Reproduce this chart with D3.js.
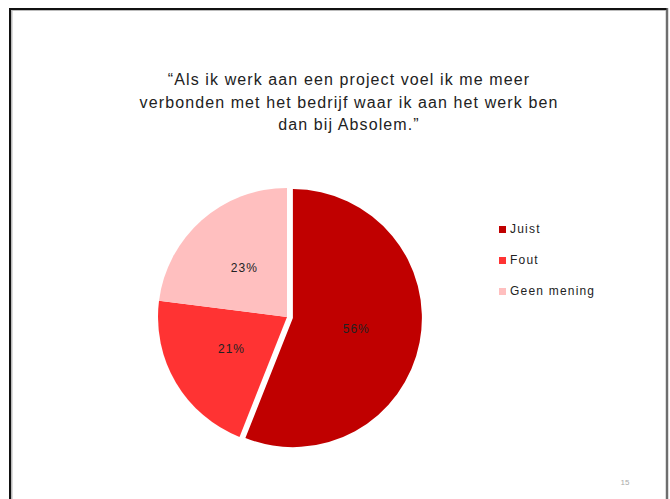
<!DOCTYPE html>
<html>
<head>
<meta charset="utf-8">
<script src="https://d3js.org/d3.v7.min.js"></script>
<style>
  html, body { margin: 0; padding: 0; background: #fff; }
  svg { display: block; }
</style>
</head>
<body>
<svg id="chart" width="670" height="499"></svg>
<script>
// ── Data ──
const categories = ['Juist', 'Fout', 'Geen mening'];
const values = [56, 21, 23];
const colors = ['#C00000', '#FF3333', '#FFBFBF'];
const titleLines = [
  '\u201CAls ik werk aan een project voel ik me meer',
  'verbonden met het bedrijf waar ik aan het werk ben',
  'dan bij Absolem.\u201D'
];
const pageNumber = '15';

const W = 670, H = 499;
const svg = d3.select('#chart');
const FONT = '"Liberation Sans", Arial, sans-serif';

// slide frame
svg.append('rect').attr('x', 11).attr('y', 9.5).attr('width', 656).attr('height', 500)
  .attr('fill', 'none').attr('stroke', '#bbb').attr('stroke-width', 3);
svg.append('line').attr('x1', 10).attr('y1', 9).attr('x2', 667).attr('y2', 9)
  .attr('stroke', '#111').attr('stroke-width', 2);
svg.append('line').attr('x1', 10).attr('y1', 8).attr('x2', 10).attr('y2', H)
  .attr('stroke', '#111').attr('stroke-width', 2);
svg.append('line').attr('x1', 667).attr('y1', 8).attr('x2', 667).attr('y2', H)
  .attr('stroke', '#555').attr('stroke-width', 1.5);

// title
svg.append('text')
  .attr('text-anchor', 'middle').attr('font-family', FONT).attr('font-size', '16px')
  .attr('letter-spacing', '1.1px').attr('fill', '#222')
  .selectAll('tspan').data(titleLines).enter().append('tspan')
  .attr('x', 349).attr('y', (d, i) => 85 + i * 22.5).text(d => d);

// pie
const cx = 287, cy = 317, r = 129, explode = 6;
const pie = d3.pie().sort(null).value(d => d)(values);
const arc = d3.arc().innerRadius(0).outerRadius(r);
const g = svg.append('g').attr('transform', `translate(${cx},${cy})`);

const slices = g.selectAll('g.slice').data(pie).enter().append('g')
  .attr('transform', (d, i) => {
    if (i !== 0) return null;
    const a = (d.startAngle + d.endAngle) / 2;
    return `translate(${explode * Math.sin(a)},${-explode * Math.cos(a)})`;
  });
slices.append('path').attr('d', arc).attr('fill', (d, i) => colors[i]);
slices.append('text')
  .attr('transform', d => `translate(${arc.centroid(d)})`)
  .attr('text-anchor', 'middle').attr('dominant-baseline', 'middle')
  .attr('font-family', FONT).attr('font-size', '12px').attr('letter-spacing', '1px').attr('fill', '#222')
  .text(d => Math.round(d.value) + '%');

// legend
const legend = svg.append('g').attr('transform', 'translate(499,230)');
const items = legend.selectAll('g').data(categories).enter().append('g')
  .attr('transform', (d, i) => `translate(0,${i * 31})`);
items.append('rect').attr('x', 0).attr('y', -4).attr('width', 7).attr('height', 7)
  .attr('fill', (d, i) => colors[i]);
items.append('text').attr('x', 11).attr('y', 0).attr('dominant-baseline', 'middle')
  .attr('font-family', FONT).attr('font-size', '12px').attr('letter-spacing', '1.2px')
  .attr('fill', '#222').text(d => d);

// page number
svg.append('text').attr('x', 625).attr('y', 485).attr('text-anchor', 'middle')
  .attr('font-family', FONT).attr('font-size', '8px').attr('fill', '#aaa').text(pageNumber);
</script>
</body>
</html>
